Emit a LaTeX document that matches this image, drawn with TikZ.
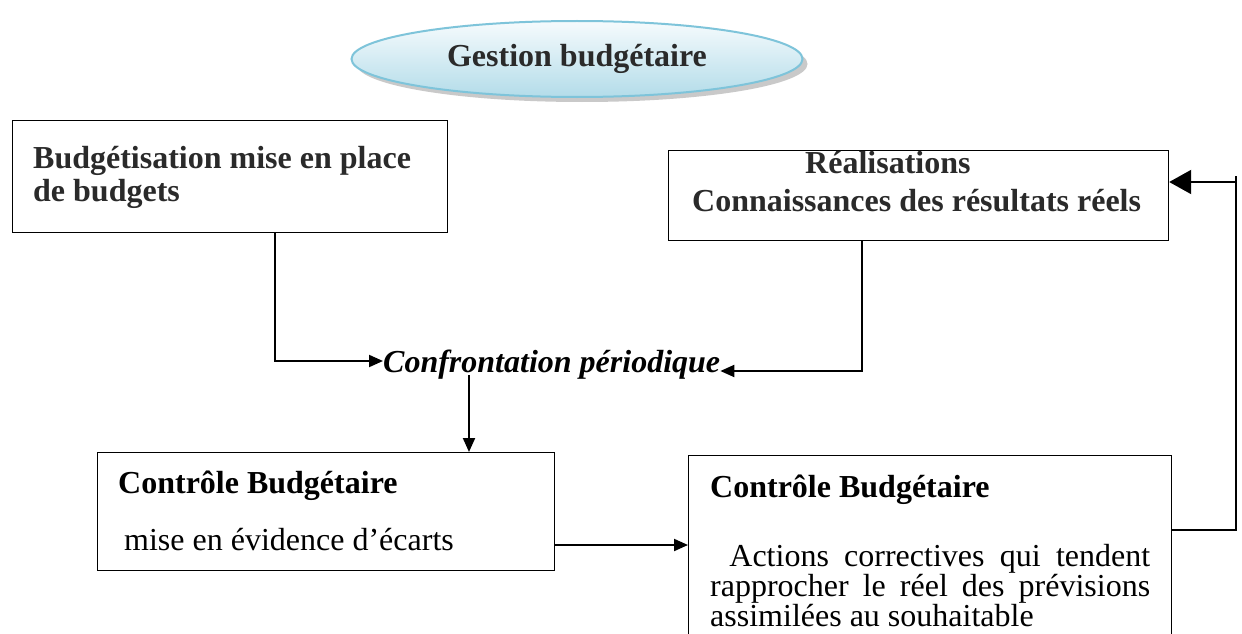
\documentclass[tikz,border=0pt]{standalone}
\usepackage{fontspec}
\setmainfont{Liberation Serif}
\usetikzlibrary{shapes.geometric,arrows.meta,shadows}
\definecolor{ovalline}{HTML}{7EC4DA}
\definecolor{ovaltop}{HTML}{F6FBFD}
\definecolor{ovalbot}{HTML}{B3DCE9}
\definecolor{inkgray}{HTML}{2A2A2A}
\begin{document}
\begin{tikzpicture}[x=1pt,y=-1pt,
  box/.style={draw, line width=1.2pt, inner sep=0pt, anchor=north west},
  conn/.style={line width=2pt},
  arr/.style={conn, -{Triangle[length=14pt,width=12pt]}},
  bigarr/.style={conn, -{Triangle[length=22pt,width=24pt]}},
  txt/.style={inner sep=0pt, anchor=base west, font=\fontsize{32}{33}\selectfont},
  btxt/.style={txt, font=\fontsize{32}{33}\selectfont\bfseries},
]
\clip (0,0) rectangle (1242,634);
\fill[white] (0,0) rectangle (1242,634);

% title oval
\node[ellipse, minimum width=451pt, minimum height=76pt, draw=ovalline, line width=2pt,
      top color=ovaltop, bottom color=ovalbot,
      drop shadow={fill=gray!70, shadow xshift=5pt, shadow yshift=-5pt, opacity=.6},
      font=\fontsize{32}{32}\selectfont\bfseries, text=inkgray] (title) at (577,59) {Gestion budgétaire};

% boxes
\node[box, minimum width=435pt, minimum height=112pt] (budget) at (12,120) {};
\node[box, minimum width=500pt, minimum height=90pt] (real) at (668,150) {};
\node[box, minimum width=457pt, minimum height=118pt] (ecart) at (97,452) {};
\node[box, minimum width=483pt, minimum height=205pt] (action) at (688,455) {};

% box texts
\node[btxt, text=inkgray] (t1a) at (33,168) {Budgétisation mise en place};
\node[btxt, text=inkgray] (t1b) at (33,201) {de budgets};
\node[btxt, text=inkgray] (t2a) at (805,173) {Réalisations};
\node[btxt, text=inkgray] (t2b) at (692,211) {Connaissances des résultats réels};
\node[btxt] (t3a) at (118,493) {Contrôle Budgétaire};
\node[txt] (t3b) at (124,550) {mise en évidence d’écarts};
\node[btxt] (t4a) at (710,497) {Contrôle Budgétaire};
\node[txt, text width=440pt, align=justify, font=\fontsize{32}{30}\selectfont] (t4b) at (710,566)
  {\hyphenpenalty=10000\hspace*{0.6em}Actions correctives qui tendent\linebreak
   rapprocher le réel des prévisions\linebreak assimilées au souhaitable};

% central label
\node[inner sep=0pt, anchor=base west, font=\fontsize{32}{32}\selectfont\bfseries\itshape] (conf) at (383,372) {Confrontation périodique};

% connector bend points
\coordinate (c1) at (275,361);
\coordinate (c2) at (862,371);
\coordinate (c3) at (469,375);
\coordinate (c4) at (0,545);
\coordinate (c5) at (1236,530);
\coordinate (c6) at (1236,182);
\coordinate (c7) at (1236,176);

% connectors
\draw[arr] (budget.south -| c1) |- (conf.west |- c1);
\draw[arr] (real.south -| c2) |- (conf.east |- c2);
\draw[arr] (c3) -- (ecart.north -| c3);
\draw[arr] (ecart.east |- c4) -- (action.west |- c4);
\draw[conn] (action.east |- c5) -| (c7);
\draw[bigarr] (c6) -- (real.east |- c6);
\end{tikzpicture}
\end{document}
